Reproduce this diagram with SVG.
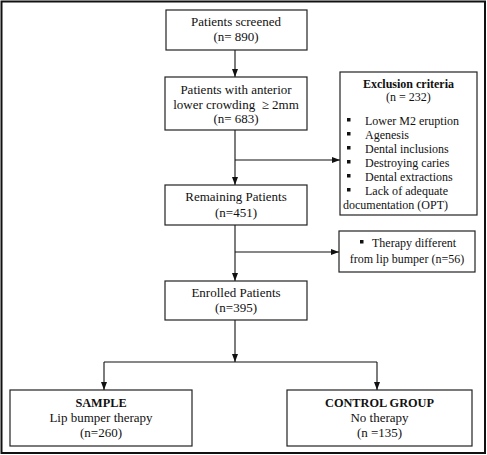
<svg xmlns="http://www.w3.org/2000/svg" width="487" height="455" viewBox="0 0 487 455">
<style>
.box{fill:#fff;stroke:#222;stroke-width:1.2}
.t{font-size:13px;fill:#111;text-anchor:middle}
.s{font-size:12px;fill:#111}
.c{text-anchor:middle}
.b{font-weight:bold}
.h{font-size:12.3px}
.ln{fill:none;stroke:#111;stroke-width:1.1}
.bul{fill:#111}
</style>
<defs>
<marker id="ah" markerUnits="userSpaceOnUse" markerWidth="8" markerHeight="8" viewBox="0 0 8 8" refX="8" refY="4" orient="auto">
<path d="M0,1 L8,4 L0,7 Z" fill="#111"/>
</marker>
</defs>
<rect x="0" y="0" width="487" height="455" fill="#fff"/>
<rect x="1.5" y="1.5" width="483.5" height="451.5" fill="none" stroke="#111" stroke-width="2"/>

<g id="connectors">
<line class="ln" x1="235" y1="50" x2="235" y2="77" marker-end="url(#ah)"/>
<line class="ln" x1="235" y1="130" x2="235" y2="185" marker-end="url(#ah)"/>
<line class="ln" x1="235" y1="160" x2="340" y2="160" marker-end="url(#ah)"/>
<line class="ln" x1="235" y1="225" x2="235" y2="281" marker-end="url(#ah)"/>
<line class="ln" x1="235" y1="252" x2="339" y2="252" marker-end="url(#ah)"/>
<line class="ln" x1="235" y1="320" x2="235" y2="362" marker-end="url(#ah)"/>
<line class="ln" x1="104" y1="362" x2="377" y2="362"/>
<line class="ln" x1="104" y1="362" x2="104" y2="390" marker-end="url(#ah)"/>
<line class="ln" x1="377" y1="362" x2="377" y2="390" marker-end="url(#ah)"/>
</g>

<g id="nodes" font-family="Liberation Serif, Times New Roman, serif">
<g id="screened">
<rect class="box" x="166" y="10" width="141" height="40"/>
<text class="t" x="236" y="26">Patients screened</text>
<text class="t" x="236" y="41">(n= 890)</text>
</g>

<g id="crowding">
<rect class="box" x="165" y="77" width="142" height="53"/>
<text class="t" x="236" y="94">Patients with anterior</text>
<text class="t" x="236" y="109" xml:space="preserve">lower crowding  ≥ 2mm</text>
<text class="t" x="236" y="123">(n= 683)</text>
</g>

<g id="exclusion">
<rect class="box" x="340" y="72" width="137" height="143"/>
<text class="s c b" x="408.5" y="88">Exclusion criteria</text>
<text class="s c" x="408.5" y="101">(n = 232)</text>
<rect class="bul" x="347" y="118" width="3.5" height="3.5"/>
<text class="s" x="365" y="125">Lower M2 eruption</text>
<rect class="bul" x="347" y="132" width="3.5" height="3.5"/>
<text class="s" x="365" y="139">Agenesis</text>
<rect class="bul" x="347" y="146" width="3.5" height="3.5"/>
<text class="s" x="365" y="153">Dental inclusions</text>
<rect class="bul" x="347" y="160" width="3.5" height="3.5"/>
<text class="s" x="365" y="167">Destroying caries</text>
<rect class="bul" x="347" y="174" width="3.5" height="3.5"/>
<text class="s" x="365" y="181">Dental extractions</text>
<rect class="bul" x="347" y="188" width="3.5" height="3.5"/>
<text class="s" x="365" y="195" textLength="83" lengthAdjust="spacing">Lack of adequate</text>
<text class="s" x="343" y="209">documentation (OPT)</text>
</g>

<g id="remaining">
<rect class="box" x="165" y="185" width="142" height="40"/>
<text class="t" x="236" y="201">Remaining Patients</text>
<text class="t" x="236" y="217">(n=451)</text>
</g>

<g id="therapy-different">
<rect class="box" x="339" y="231" width="136" height="41"/>
<rect class="bul" x="360" y="240" width="3.5" height="3.5"/>
<text class="s" x="372" y="247">Therapy different</text>
<text class="s c" x="407" y="263">from lip bumper (n=56)</text>
</g>

<g id="enrolled">
<rect class="box" x="165" y="281" width="142" height="39"/>
<text class="t" x="236" y="296.5">Enrolled Patients</text>
<text class="t" x="236" y="311.5">(n=395)</text>
</g>

<g id="sample">
<rect class="box" x="10" y="390" width="182" height="56"/>
<text class="t b h" x="101" y="406.5">SAMPLE</text>
<text class="t" x="101" y="422">Lip bumper therapy</text>
<text class="t" x="101" y="437">(n=260)</text>
</g>

<g id="control">
<rect class="box" x="287" y="390" width="185" height="56"/>
<text class="t b h" x="379.5" y="406.5">CONTROL GROUP</text>
<text class="t" x="379.5" y="422">No therapy</text>
<text class="t" x="379.5" y="437">(n =135)</text>
</g>
</g>
</svg>
